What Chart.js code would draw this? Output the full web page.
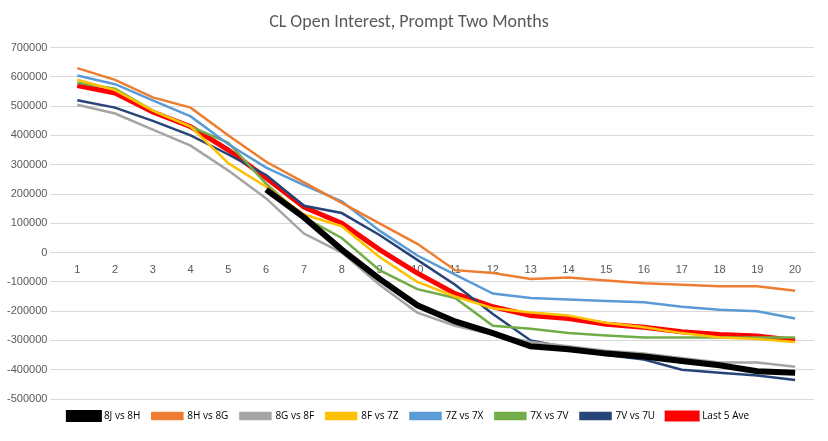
<!DOCTYPE html>
<html>
<head>
<script src="https://cdn.jsdelivr.net/npm/chart.js@4"></script>
<style>
  html, body { margin: 0; background: #fff; }
  #wrap { width: 828px; height: 441px; }
</style>
</head>
<body>
<div id="wrap"><canvas id="chart"></canvas></div>
<script>
const labels = ['1','2','3','4','5','6','7','8','9','10','11','12','13','14','15','16','17','18','19','20'];

const s8J8H = [null,null,null,null,null,215000,120000,10000,-90000,-180000,-235000,-275000,-320000,-330000,-345000,-355000,-370000,-385000,-405000,-410000];
const s8H8G = [630000,590000,530000,495000,400000,310000,240000,170000,100000,30000,-60000,-70000,-90000,-85000,-95000,-105000,-110000,-115000,-115000,-130000];
const s8G8F = [505000,475000,420000,365000,280000,185000,65000,0,-110000,-205000,-250000,-280000,-305000,-320000,-335000,-345000,-360000,-375000,-375000,-390000];
const s8F7Z = [590000,555000,485000,430000,305000,225000,130000,90000,-15000,-100000,-150000,-190000,-205000,-215000,-240000,-255000,-275000,-290000,-295000,-305000];
const s7Z7X = [605000,575000,520000,465000,370000,290000,230000,175000,75000,-10000,-75000,-140000,-155000,-160000,-165000,-170000,-185000,-195000,-200000,-225000];
const s7X7V = [580000,560000,485000,430000,375000,235000,120000,50000,-60000,-125000,-155000,-250000,-260000,-275000,-283000,-290000,-290000,-290000,-290000,-290000];
const s7V7U = [520000,495000,450000,400000,335000,265000,160000,135000,60000,-25000,-110000,-210000,-300000,-325000,-350000,-365000,-400000,-410000,-420000,-435000];
const last5 = [570000,545000,480000,430000,350000,255000,155000,100000,10000,-70000,-140000,-185000,-215000,-225000,-245000,-255000,-270000,-280000,-285000,-300000];

function ds(label, data, color, width) {
  return { label, data, borderColor: color, backgroundColor: color, borderWidth: width,
           pointRadius: 0, tension: 0, fill: false, spanGaps: false };
}

new Chart(document.getElementById('chart'), {
  type: 'line',
  data: {
    labels,
    datasets: [
      ds('8J vs 8H', s8J8H, '#000000', 6),
      ds('8H vs 8G', s8H8G, '#ED7D31', 2.5),
      ds('8G vs 8F', s8G8F, '#A5A5A5', 2.5),
      ds('8F vs 7Z', s8F7Z, '#FFC000', 2.5),
      ds('7Z vs 7X', s7Z7X, '#5B9BD5', 2.5),
      ds('7X vs 7V', s7X7V, '#70AD47', 2.5),
      ds('7V vs 7U', s7V7U, '#264478', 2.5),
      ds('Last 5 Ave', last5, '#FF0000', 5)
    ]
  },
  options: {
    responsive: true,
    maintainAspectRatio: false,
    animation: false,
    layout: { padding: { left: 4, right: 14, top: 4, bottom: 10 } },
    plugins: {
      title: { display: true, text: 'CL Open Interest, Prompt Two Months', color: '#595959',
               font: { family: 'Calibri, Carlito, "Open Sans", sans-serif', size: 18, weight: 'normal' },
               padding: { top: 8, bottom: 14 } },
      legend: { position: 'bottom',
                labels: { boxWidth: 30, boxHeight: 6, color: '#000', padding: 12,
                          font: { family: '"Open Sans", sans-serif', size: 10 } } }
    },
    scales: {
      x: {
        position: { y: 0 },
        offset: true,
        grid: { display: false },
        border: { color: '#d9d9d9' },
        ticks: { color: '#595959', font: { size: 11 }, maxRotation: 0 }
      },
      y: {
        min: -500000, max: 700000,
        grid: { color: '#d9d9d9' },
        border: { display: false },
        ticks: { stepSize: 100000, color: '#595959', font: { size: 11 },
                 callback: v => String(v) }
      }
    }
  }
});
</script>
</body>
</html>
